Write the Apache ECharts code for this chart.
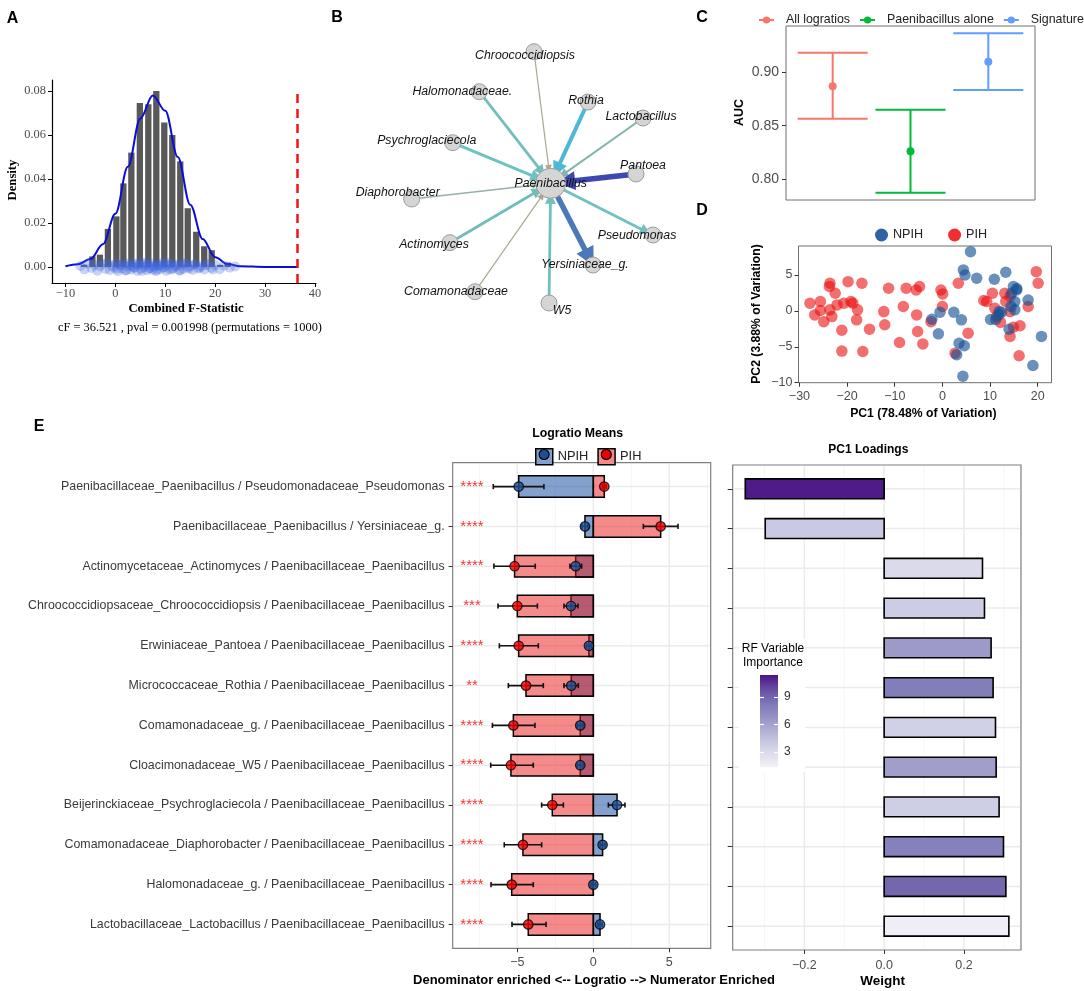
<!DOCTYPE html>
<html><head><meta charset="utf-8">
<script src="https://cdn.jsdelivr.net/npm/echarts@6/dist/echarts.min.js"></script>
<style>html,body{margin:0;padding:0;background:#fff}#c{width:1084px;height:991px}</style>
</head><body><div id="c"></div>
<script>
// ---------------- Panel A data ----------------
const histCenters = [-6.3,-4.6,-3.1,-1.5,0.2,1.6,3.2,4.9,6.6,8.2,9.8,11.4,13.0,14.5,16.2,17.8,19.3,21.0,22.5];
const histDensity = [0.001,0.0048,0.0056,0.0173,0.023,0.038,0.052,0.0745,0.074,0.080,0.0657,0.060,0.048,0.0267,0.016,0.0094,0.0076,0.0009,0.002];
const curveX = [-10,-7.5,-5,-2.5,0,2.5,5,7.5,10,12.5,15,17.5,20,22.5,25,30,36.5];
const curveY = [0.0003,0.0012,0.0036,0.0103,0.0242,0.0455,0.0675,0.0780,0.0710,0.0500,0.0283,0.0127,0.0044,0.0013,0.0003,0.0,0.0];
const permF = [-7.0,-6.2,-5.5,-4.8,-4.2,-3.6,-3.1,-2.5,-2.0,-1.6,-1.1,-0.7,-0.3,0.1,0.5,0.9,1.3,1.6,2.0,2.4,2.7,3.1,3.4,3.8,4.1,4.4,4.8,5.1,5.4,5.7,6.0,6.3,6.6,6.9,7.2,7.5,7.8,8.1,8.4,8.7,9.0,9.3,9.6,9.9,10.2,10.5,10.9,11.2,11.6,12.0,12.4,12.8,13.2,13.6,14.0,14.5,15.0,15.5,16.0,16.6,17.2,17.8,18.5,19.2,20.0,20.9,21.8,22.9,24.0,
  0.3,1.1,2.2,3.0,3.7,4.6,5.3,6.1,6.8,7.6,8.3,9.1,9.8,10.6,11.4,12.2,13.0,13.9,14.8,15.8,16.9,18.1,19.5];
const permJitter = [0.0004,-0.0011,0.0016,-0.0005,0.0009,-0.0017,0.0002,0.0013,-0.0009,0.0018,-0.0014,0.0006,-0.0002,0.0015,-0.0019,0.0008,-0.0007,0.0011,-0.0016,0.0003,
  0.0017,-0.0012,0.0005,-0.0004,0.0014,-0.0018,0.0010,-0.0008,0.0019,-0.0001,0.0007,-0.0015,0.0012,-0.0006,0.0016,-0.0013,0.0001,-0.0019,0.0009,0.0004,
  -0.0010,0.0018,-0.0003,0.0013,-0.0017,0.0006,-0.0011,0.0015,-0.0005,0.0002,0.0011,-0.0016,0.0008,-0.0009,0.0017,-0.0002,0.0005,-0.0014,0.0012,-0.0007,
  0.0003,-0.0012,0.0014,-0.0004,0.0009,-0.0010,0.0006,-0.0003,0.0002,
  -0.0008,0.0010,-0.0015,0.0007,-0.0003,0.0012,-0.0018,0.0016,-0.0006,0.0003,-0.0013,0.0009,-0.0001,0.0018,-0.0010,0.0005,-0.0016,0.0013,-0.0007,0.0011,-0.0004,0.0008,-0.0012];
const observedCF = 36.521;
const aTicksX = [-10,0,10,20,30,40];
const aTicksY = [0,0.02,0.04,0.06,0.08];

// ---------------- Panel B data ----------------
const nodeNames = ['Paenibacillus','Chroococcidiopsis','Halomonadaceae.','Rothia','Lactobacillus','Psychroglaciecola','Pantoea','Diaphorobacter','Pseudomonas','Actinomyces','Yersiniaceae_g.','Comamonadaceae','W5'];
const nodeX = [550.7,534,479.3,588,643,452.7,636,411.7,653,450,593,475,549];
const nodeY = [183.3,51.7,91.7,102,118,142.7,174,199,235,242.7,265,291.7,303];
const edgeSource = ['Chroococcidiopsis','Halomonadaceae.','Rothia','Lactobacillus','Psychroglaciecola','Pantoea','Diaphorobacter','Actinomyces','Comamonadaceae','W5','Paenibacillus','Paenibacillus'];
const edgeTarget = ['Paenibacillus','Paenibacillus','Paenibacillus','Paenibacillus','Paenibacillus','Paenibacillus','Paenibacillus','Paenibacillus','Paenibacillus','Paenibacillus','Pseudomonas','Yersiniaceae_g.'];

// ---------------- Panel C data ----------------
const aucGroups = ['All logratios','Paenibacillus alone','Signature'];
const aucMean = [0.887,0.826,0.910];
const aucLow = [0.8565,0.7872,0.8834];
const aucHigh = [0.9184,0.865,0.9365];
const cTicksY = [0.80,0.85,0.90];

// ---------------- Panel D data ----------------
const pihPC1 = [-27.8,-26.8,-25.6,-25.6,-24.9,-23.6,-23.7,-22.5,-23.6,-23.2,-22.1,-21.1,-21.1,-20.7,-19.8,-19.2,-18.8,-17.8,-18.0,-16.9,-16.7,-15.3,-12.3,-12.1,-11.3,-9.0,-8.2,-7.6,-5.5,-5.4,-4.8,-5.2,-4.1,-2.4,-0.3,0.07,0.0,3.35,2.65,5.4,8.7,9.3,10.5,11.0,12.2,13.1,13.3,14.2,14.2,14.2,14.9,16.1,16.3,18.0,19.7,20.1,11.4];
const pihPC2 = [1.06,-0.56,1.3,0.05,-1.5,3.84,3.4,2.45,0.14,-0.8,0.83,-2.7,-5.6,1.06,4.07,1.3,1.06,0.14,-1.25,3.84,-5.65,-2.55,-0.1,-1.94,3.15,-4.4,0.6,3.15,2.9,-0.56,3.4,-2.87,-4.6,-1.5,2.9,2.36,0.6,3.84,-5.9,-3.1,1.44,1.3,2.45,0.37,-1.6,2.45,1.3,-0.1,-3.56,2.0,-2.27,-6.25,-2.08,0.6,5.46,3.84,-0.8];
const npihPC1 = [5.9,4.4,4.75,7.2,10.9,13.3,14.9,15.6,14.5,15.2,15.2,18.0,19.0,20.8,11.9,12.4,10.1,11.2,14.0,2.4,4.0,-2.2,-0.84,-0.5,3.5,4.6,4.3,3.0,15.6,11.8,14.4];
const npihPC2 = [8.24,5.7,5.0,4.54,4.4,5.37,3.4,3.1,2.45,1.3,0.14,1.5,-7.6,-3.56,-0.1,-0.2,-1.2,-1.2,-2.55,-0.2,-1.25,-1.16,-3.2,-0.2,-4.5,-4.86,-9.1,-6.1,2.9,-0.56,0.6];
const dTicksX = [-30,-20,-10,0,10,20];
const dTicksY = [-10,-5,0,5];

// ---------------- Panel E data ----------------
const ratioLabels = [
 'Paenibacillaceae_Paenibacillus / Pseudomonadaceae_Pseudomonas',
 'Paenibacillaceae_Paenibacillus / Yersiniaceae_g.',
 'Actinomycetaceae_Actinomyces / Paenibacillaceae_Paenibacillus',
 'Chroococcidiopsaceae_Chroococcidiopsis / Paenibacillaceae_Paenibacillus',
 'Erwiniaceae_Pantoea / Paenibacillaceae_Paenibacillus',
 'Micrococcaceae_Rothia / Paenibacillaceae_Paenibacillus',
 'Comamonadaceae_g. / Paenibacillaceae_Paenibacillus',
 'Cloacimonadaceae_W5 / Paenibacillaceae_Paenibacillus',
 'Beijerinckiaceae_Psychroglaciecola / Paenibacillaceae_Paenibacillus',
 'Comamonadaceae_Diaphorobacter / Paenibacillaceae_Paenibacillus',
 'Halomonadaceae_g. / Paenibacillaceae_Paenibacillus',
 'Lactobacillaceae_Lactobacillus / Paenibacillaceae_Paenibacillus'];
const stars = ['****','****','****','***','****','**','****','****','****','****','****','****'];
const npihMean = [-4.91,-0.55,-1.16,-1.47,-0.29,-1.45,-0.86,-0.86,1.56,0.61,0.0,0.44];
const npihLo = [-6.58,-0.75,-1.54,-1.93,-0.45,-1.93,-1.05,-1.05,0.99,0.45,-0.15,0.30];
const npihHi = [-3.25,-0.35,-0.77,-1.01,-0.13,-0.99,-0.67,-0.67,2.08,0.77,0.15,0.58];
const pihMean = [0.72,4.43,-5.18,-5.00,-4.91,-4.43,-5.26,-5.42,-2.70,-4.63,-5.37,-4.28];
const pihLo = [0.60,3.29,-6.54,-6.27,-6.18,-5.59,-6.64,-6.75,-3.40,-5.86,-6.73,-5.35];
const pihHi = [0.84,5.57,-3.82,-3.68,-3.62,-3.29,-3.84,-3.95,-1.97,-3.40,-3.95,-3.11];
const eTicksX = [-5,0,5];
const eMinorX = [-7.5,-2.5,2.5,7.5];
const pc1Loading = [-0.348,-0.298,0.2464,0.2514,0.268,0.273,0.279,0.2807,0.288,0.299,0.305,0.3125];
const rfImportance = [11.2,4.0,3.0,3.8,6.4,8.0,3.6,6.2,3.7,7.8,8.9,1.55];
const wTicksX = [-0.2,0,0.2];
const wMinorX = [-0.3,-0.1,0.1,0.3];
const rfTicks = [3,6,9];
const rows = ratioLabels.map((_, i) => i + 1);

// ---------------- styles ----------------
const SANS = '"Liberation Sans", Arial, sans-serif';
const SERIF = '"Liberation Serif", "Times New Roman", serif';
const aucColors = ['#F8766D','#00BA38','#619CFF'];
const purples = ['#f2f0f7','#dadaeb','#bcbddc','#9e9ac8','#807dba','#6a51a3','#4a1486'];
const nodeLabelOffset = [[0,0],[-9,4],[-17,0],[-2,-1],[-2,-1],[-26,-2],[7,-8],[-14,-6],[-16,1],[-16,2],[-8,0],[-19,0],[13,8]];
const edgeWidth = [1.2,2.8,4,2,3,5.5,1.6,2.8,1.2,2.8,2.8,5.5];
const edgeArrow = [7,11,15,9,12,19,7,11,7,11,11,19];
const edgeColor = ['#a9a995','#74bdbd','#4db8d3','#80b5ae','#6fc2c2','#3e48b0','#98b0a6','#72bcbc','#a8a890','#70c0c0','#70c0c0','#4a78b8'];
const minusFmt = v => v < 0 ? '\u2212' + Math.abs(v) : String(v);

const chart = echarts.init(document.getElementById('c'), null, {renderer:'canvas'});

function tickAxis(base, ticks, labelOpt, tickOpt) {
  return Object.assign({
    type:'value', splitLine:{show:false},
    axisLine:{show:false, onZero:false},
    axisTick: Object.assign({show:true, length:4, customValues:ticks, lineStyle:{color:'#333', width:1}}, tickOpt || {}),
    axisLabel: Object.assign({show:true, customValues:ticks, color:'#4d4d4d', fontFamily:SANS, fontSize:12.5}, labelOpt || {})
  }, base);
}

const series = [];
// ---- A ----
series.push({type:'custom', xAxisIndex:0, yAxisIndex:0, z:2, silent:true,
  data: histCenters.map((c,i)=>[c, histDensity[i]]),
  renderItem:(p,api)=>{const c=api.value(0), d=api.value(1); const a=api.coord([c-0.63,d]), b=api.coord([c+0.63,0]);
    return {type:'rect', shape:{x:a[0], y:a[1], width:b[0]-a[0], height:b[1]-a[1]}, style:{fill:'#595959'}};}});
series.push({type:'line', xAxisIndex:0, yAxisIndex:0, z:3, silent:true,
  data: curveX.map((x,i)=>[x, curveY[i]]), smooth:0.35, smoothMonotone:'x', showSymbol:false, symbol:'none',
  lineStyle:{color:'#0b0bdc', width:2},
  markLine:{silent:true, symbol:['none','none'], label:{show:false}, animation:false,
    lineStyle:{color:'#f01414', width:2.5, type:[9,6]},
    data:[[{coord:[observedCF,-0.0073]},{coord:[observedCF,0.0814]}]]}});
series.push({type:'scatter', xAxisIndex:0, yAxisIndex:0, z:4, silent:true,
  data: permF.map((x,i)=>[x, permJitter[i]]), symbolSize:10, itemStyle:{color:'rgba(65,105,225,0.36)'}});

// ---- B ----
series.push({type:'graph', layout:'none', left:411.7, top:51.7, width:241.3, height:251.3, silent:true, roam:false,
  data: nodeNames.map((n,i)=>({name:n, x:nodeX[i], y:nodeY[i], symbolSize: i===0 ? 30 : 16, label:{offset:nodeLabelOffset[i]}})),
  links: edgeSource.map((s,i)=>({source:s, target:edgeTarget[i], symbolSize:edgeArrow[i], lineStyle:{width:edgeWidth[i], color:edgeColor[i], opacity:1}})),
  edgeSymbol:['none','triangle'], edgeSymbolSize:10,
  itemStyle:{color:'#d5d5d5', borderColor:'#9c9c9c', borderWidth:1},
  lineStyle:{curveness:0, opacity:1},
  label:{show:true, position:'inside', formatter:'{b}', fontFamily:SANS, fontStyle:'italic', fontSize:12.3, color:'#111'},
  emphasis:{disabled:true}});

// ---- C ----
series.push({type:'custom', xAxisIndex:1, yAxisIndex:1, z:3, silent:true,
  data: aucGroups.map((g,i)=>[i+1, aucLow[i], aucHigh[i], i]),
  renderItem:(p,api)=>{const x=api.value(0), lo=api.value(1), hi=api.value(2), col=aucColors[api.value(3)];
    const t=api.coord([x,hi]), b=api.coord([x,lo]), l1=api.coord([x-0.45,hi]), r1=api.coord([x+0.45,hi]), l2=api.coord([x-0.45,lo]), r2=api.coord([x+0.45,lo]);
    const st={stroke:col, lineWidth:2};
    return {type:'group', children:[
      {type:'line', shape:{x1:t[0],y1:t[1],x2:b[0],y2:b[1]}, style:st},
      {type:'line', shape:{x1:l1[0],y1:l1[1],x2:r1[0],y2:r1[1]}, style:st},
      {type:'line', shape:{x1:l2[0],y1:l2[1],x2:r2[0],y2:r2[1]}, style:st}]};}});
aucGroups.forEach((g,i)=>series.push({type:'line', name:g, xAxisIndex:1, yAxisIndex:1, z:4, silent:true,
  data:[[i+1, aucMean[i]]], symbol:'circle', symbolSize:8, showSymbol:true,
  itemStyle:{color:aucColors[i]}, lineStyle:{color:aucColors[i], width:2}}));

// ---- D ----
series.push({type:'scatter', name:'PIH', xAxisIndex:2, yAxisIndex:2, z:3, silent:true,
  data: pihPC1.map((x,i)=>[x, pihPC2[i]]), symbolSize:11.5, itemStyle:{color:'rgba(236,16,16,0.76)'}});
series.push({type:'scatter', name:'NPIH', xAxisIndex:2, yAxisIndex:2, z:4, silent:true,
  data: npihPC1.map((x,i)=>[x, npihPC2[i]]), symbolSize:11.5, itemStyle:{color:'rgba(22,82,150,0.8)'}});

// ---- E grid lines ----
function vLines(xi, yi, major, minor) {
  return {type:'custom', xAxisIndex:xi, yAxisIndex:yi, z:1, silent:true,
    data: major.map(v=>[v,1,1]).concat(minor.map(v=>[v,1,0])),
    renderItem:(p,api)=>{const cs=p.coordSys; const x=api.coord([api.value(0),1])[0]; const mj=api.value(2)===1;
      return {type:'line', shape:{x1:x,y1:cs.y+1,x2:x,y2:cs.y+cs.height-1}, style:{stroke: mj ? '#ebebeb' : '#f3f3f3', lineWidth: mj ? 1.5 : 0.8}};}};
}
function hLines(xi, yi, x0) {
  return {type:'custom', xAxisIndex:xi, yAxisIndex:yi, z:1, silent:true,
    data: rows.map(r=>[x0, r]),
    renderItem:(p,api)=>{const cs=p.coordSys; const y=api.coord([api.value(0),api.value(1)])[1];
      return {type:'line', shape:{x1:cs.x+1,y1:y,x2:cs.x+cs.width-1,y2:y}, style:{stroke:'#ebebeb', lineWidth:1.5}};}};
}
series.push(vLines(3,3,eTicksX,eMinorX));
series.push(hLines(3,3,0));
series.push(vLines(4,4,wTicksX,wMinorX));
series.push(hLines(4,4,0));

// ---- E left bars ----
function meanBars(means, fill, z) {
  return {type:'custom', xAxisIndex:3, yAxisIndex:3, z, silent:true,
    data: means.map((m,i)=>[m, i+1]),
    renderItem:(p,api)=>{const v=api.value(0), r=api.value(1); const a=api.coord([0,r-0.27]), b=api.coord([v,r+0.27]);
      return {type:'rect', shape:{x:Math.min(a[0],b[0]), y:Math.min(a[1],b[1]), width:Math.abs(b[0]-a[0]), height:Math.abs(b[1]-a[1])},
        style:{fill, stroke:'#000', lineWidth:1.5}};}};
}
series.push(meanBars(npihMean, 'rgba(10,65,155,0.5)', 3));
series.push(meanBars(pihMean, 'rgba(233,21,21,0.5)', 4));
function errBars(lo, hi) {
  return {type:'custom', xAxisIndex:3, yAxisIndex:3, z:5, silent:true,
    data: lo.map((l,i)=>[l, i+1, hi[i]]),
    renderItem:(p,api)=>{const l=api.value(0), r=api.value(1), h=api.value(2);
      const a=api.coord([l,r]), b=api.coord([h,r]), a1=api.coord([l,r-0.065]), a2=api.coord([l,r+0.065]), b1=api.coord([h,r-0.065]), b2=api.coord([h,r+0.065]);
      const st={stroke:'#111', lineWidth:1.6};
      return {type:'group', children:[
        {type:'line', shape:{x1:a[0],y1:a[1],x2:b[0],y2:b[1]}, style:st},
        {type:'line', shape:{x1:a1[0],y1:a1[1],x2:a2[0],y2:a2[1]}, style:st},
        {type:'line', shape:{x1:b1[0],y1:b1[1],x2:b2[0],y2:b2[1]}, style:st}]};}};
}
series.push(errBars(npihLo, npihHi));
series.push(errBars(pihLo, pihHi));
series.push({type:'scatter', name:'NPIH', xAxisIndex:3, yAxisIndex:3, z:6, silent:true,
  data: npihMean.map((m,i)=>[m, i+1]), symbolSize:9.5, itemStyle:{color:'#1c4f96', borderColor:'#000', borderWidth:1.2}});
series.push({type:'scatter', name:'PIH', xAxisIndex:3, yAxisIndex:3, z:6, silent:true,
  data: pihMean.map((m,i)=>[m, i+1]), symbolSize:9.5, itemStyle:{color:'#f00000', borderColor:'#000', borderWidth:1.2}});
series.push({type:'scatter', xAxisIndex:3, yAxisIndex:3, z:7, silent:true,
  data: stars.map((s,i)=>[-7.98, i+1]), symbolSize:1, itemStyle:{color:'rgba(0,0,0,0)'},
  label:{show:true, position:'inside', formatter:p=>stars[p.dataIndex], color:'#ee0000', fontSize:15, fontFamily:SANS}});

// ---- E right loadings ----
const loadIndex = series.length;
series.push({type:'custom', xAxisIndex:4, yAxisIndex:4, z:3, silent:true,
  data: pc1Loading.map((v,i)=>[v, i+1, rfImportance[i]]),
  renderItem:(p,api)=>{const v=api.value(0), r=api.value(1); const a=api.coord([0,r-0.25]), b=api.coord([v,r+0.25]);
    return {type:'rect', shape:{x:Math.min(a[0],b[0]), y:Math.min(a[1],b[1]), width:Math.abs(b[0]-a[0]), height:Math.abs(b[1]-a[1])},
      style:{fill:api.visual('color'), stroke:'#000', lineWidth:1.6}};}});

const cbGradient = new echarts.graphic.LinearGradient(0,0,0,1, purples.slice().reverse().map((c,i,arr)=>({offset:i/(arr.length-1), color:c})));

function txt(x, y, text, font, extra) {
  return Object.assign({type:'text', x, y, z:5, silent:true, style:{text, font, fill:'#000', align:'center', verticalAlign:'middle'}}, extra || {});
}

const option = {
  animation:false,
  backgroundColor:'#fff',
  textStyle:{fontFamily:SANS},
  grid:[
    {left:52, top:80, width:264, height:203, show:false, outerBoundsMode:'none'},
    {left:786, top:26, width:249, height:174, show:true, borderColor:'#6e6e6e', borderWidth:1, backgroundColor:'rgba(0,0,0,0)', outerBoundsMode:'none'},
    {left:798.5, top:246, width:253, height:136.7, show:true, borderColor:'#6e6e6e', borderWidth:1, backgroundColor:'rgba(0,0,0,0)', outerBoundsMode:'none'},
    {left:452.7, top:462.7, width:258, height:485.6, show:true, borderColor:'#7f7f7f', borderWidth:1.2, backgroundColor:'rgba(0,0,0,0)', outerBoundsMode:'none'},
    {left:732.7, top:465, width:288.3, height:485, show:true, borderColor:'#7f7f7f', borderWidth:1.2, backgroundColor:'rgba(0,0,0,0)', outerBoundsMode:'none'},
    {left:760, top:675, width:18, height:92, show:true, borderWidth:0, backgroundColor:cbGradient, z:4, outerBoundsMode:'none'}
  ],
  xAxis:[
    tickAxis({gridIndex:0, min:-12.7, max:40.2, axisLine:{show:true, onZero:false, lineStyle:{color:'#000', width:1.2}}}, aTicksX,
      {formatter:minusFmt, fontFamily:SERIF, fontSize:12.4, margin:5}, {lineStyle:{color:'#000'}}),
    {gridIndex:1, type:'value', min:0.4, max:3.6, show:false},
    tickAxis({gridIndex:2, min:-30.2, max:22.9}, dTicksX, {formatter:minusFmt, margin:7}),
    tickAxis({gridIndex:3, min:-9.25, max:7.72}, eTicksX, {formatter:minusFmt, margin:8}),
    tickAxis({gridIndex:4, min:-0.3795, max:0.3429}, wTicksX, {formatter:v=>(v<0?'\u2212':'')+Math.abs(v).toFixed(1), margin:9}),
    {gridIndex:5, type:'value', min:0, max:1, show:false}
  ],
  yAxis:[
    tickAxis({gridIndex:0, min:-0.0073, max:0.085, axisLine:{show:true, onZero:false, lineStyle:{color:'#000', width:1.2}}}, aTicksY,
      {formatter:v=>v.toFixed(2), fontFamily:SERIF, fontSize:12.4, margin:6}, {lineStyle:{color:'#000'}}),
    tickAxis({gridIndex:1, min:0.7803, max:0.9434}, cTicksY, {formatter:v=>v.toFixed(2), fontSize:14, margin:7}),
    tickAxis({gridIndex:2, min:-10, max:9.03}, dTicksY, {formatter:minusFmt, margin:6}),
    tickAxis({gridIndex:3, min:0.4, max:12.6, inverse:true}, rows, {formatter:v=>ratioLabels[v-1], fontSize:12.4, color:'#3a3a3a', margin:8}),
    tickAxis({gridIndex:4, min:0.4, max:12.6, inverse:true}, rows, {show:false}, {length:5}),
    tickAxis({gridIndex:5, min:1.35, max:11.4, position:'right', z:5}, rfTicks, {fontSize:12, color:'#333', margin:6}, {inside:true, length:4, lineStyle:{color:'#fff', width:1.2}}),
    tickAxis({gridIndex:5, min:1.35, max:11.4, position:'left', z:5}, rfTicks, {show:false}, {inside:true, length:4, lineStyle:{color:'#fff', width:1.2}})
  ],
  visualMap:[{type:'continuous', show:false, min:1.35, max:11.4, dimension:2, seriesIndex:loadIndex, inRange:{color:purples}}],
  legend:[
    {left:753, top:9, width:420, itemWidth:15, itemHeight:9, itemGap:9, selectedMode:false,
      data: aucGroups.map(g=>({name:g})), textStyle:{fontSize:12.4, color:'#222', padding:[0,0,0,7]}},
    {left:870, top:223.5, itemWidth:13, itemHeight:13, itemGap:25, selectedMode:false,
      data:[{name:'NPIH', icon:'circle', itemStyle:{color:'#2f63a2', opacity:1}}, {name:'PIH', icon:'circle', itemStyle:{color:'#ee3030', opacity:1}}],
      textStyle:{fontSize:12.6, color:'#222'}},
    {left:530, top:443, itemWidth:17, itemHeight:16, itemGap:9, selectedMode:false,
      data:[{name:'NPIH', icon:'rect', itemStyle:{color:'#84a0cd', borderColor:'#000', borderWidth:1.5, opacity:1}}, {name:'PIH', icon:'rect', itemStyle:{color:'#f48a8a', borderColor:'#000', borderWidth:1.5, opacity:1}}],
      textStyle:{fontSize:12.8, color:'#222'}},
    {left:533.5, top:443, itemWidth:10, itemHeight:16, itemGap:16, selectedMode:false,
      data:[{name:'NPIH', icon:'circle', itemStyle:{color:'#1c4f96', borderColor:'#000', borderWidth:1.2, opacity:1}}, {name:'PIH', icon:'circle', itemStyle:{color:'#f00000', borderColor:'#000', borderWidth:1.2, opacity:1}}],
      textStyle:{fontSize:12.8, color:'rgba(0,0,0,0)'}}
  ],
  graphic:[
    {type:'rect', z:2, silent:true, shape:{x:739, y:639, width:66, height:133}, style:{fill:'#fff'}},
    txt(12.5, 19, 'A', 'bold 16px ' + SANS),
    txt(337, 18, 'B', 'bold 16px ' + SANS),
    txt(702, 18, 'C', 'bold 16px ' + SANS),
    txt(702, 211, 'D', 'bold 16px ' + SANS),
    txt(39, 427, 'E', 'bold 16px ' + SANS),
    txt(186, 309, 'Combined F-Statistic', 'bold 12.7px ' + SERIF),
    txt(13, 180, 'Density', 'bold 12.7px ' + SERIF, {rotation:Math.PI/2}),
    txt(190, 328, 'cF = 36.521 , pval = 0.001998 (permutations = 1000)', '12.4px ' + SERIF),
    txt(740, 112.5, 'AUC', 'bold 12.4px ' + SANS, {rotation:Math.PI/2}),
    txt(756.7, 314, 'PC2 (3.88% of Variation)', 'bold 12.2px ' + SANS, {rotation:Math.PI/2}),
    txt(923.3, 413.3, 'PC1 (78.48% of Variation)', 'bold 12.2px ' + SANS),
    txt(577.7, 434, 'Logratio Means', 'bold 12.3px ' + SANS),
    txt(868.3, 449.3, 'PC1 Loadings', 'bold 12px ' + SANS),
    txt(773, 648.7, 'RF Variable', '12px ' + SANS),
    txt(773, 662.7, 'Importance', '12px ' + SANS),
    txt(594, 980, 'Denominator enriched <-- Logratio --> Numerator Enriched', 'bold 13px ' + SANS),
    txt(882.5, 981, 'Weight', 'bold 13.5px ' + SANS)
  ],
  series
};
chart.setOption(option);
</script></body></html>
